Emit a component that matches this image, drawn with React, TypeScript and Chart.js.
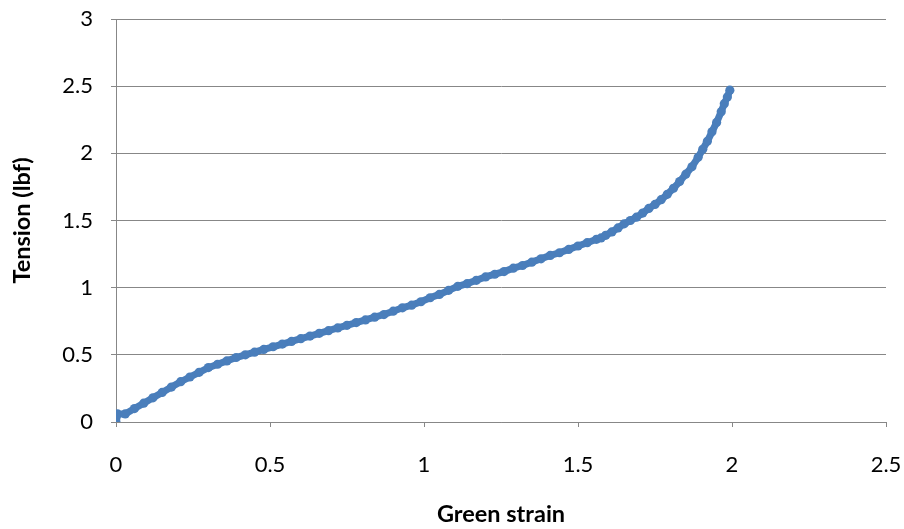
import React, { useEffect, useRef } from "react";
import { Chart, registerables } from "chart.js";

Chart.register(...registerables);

const strain: number[] = [
  0.0, 0.0, 0.005, 0.03, 0.06, 0.09, 0.12, 0.15, 0.18, 0.21, 0.24, 0.27, 0.3, 0.33, 0.36, 0.39,
  0.42, 0.45, 0.48, 0.51, 0.54, 0.57, 0.6, 0.63, 0.66, 0.69, 0.72, 0.75, 0.78, 0.81, 0.84, 0.87,
  0.9, 0.93, 0.96, 0.99, 1.02, 1.05, 1.08, 1.11, 1.14, 1.17, 1.2, 1.23, 1.26, 1.29, 1.32, 1.35,
  1.38, 1.41, 1.44, 1.47, 1.5, 1.53, 1.56, 1.575, 1.59, 1.61, 1.63, 1.65, 1.67, 1.69, 1.71, 1.73,
  1.75, 1.77, 1.79, 1.81, 1.83, 1.85, 1.87, 1.89, 1.905, 1.92, 1.935, 1.95, 1.965, 1.975, 1.985,
  1.993,
];

const tension: number[] = [
  0.0, 0.03, 0.06, 0.06, 0.1, 0.14, 0.18, 0.22, 0.26, 0.3, 0.335, 0.37, 0.405, 0.43, 0.455, 0.48,
  0.5, 0.52, 0.54, 0.56, 0.58, 0.6, 0.62, 0.64, 0.66, 0.68, 0.7, 0.72, 0.74, 0.76, 0.78, 0.8,
  0.825, 0.85, 0.87, 0.895, 0.925, 0.95, 0.98, 1.01, 1.03, 1.055, 1.08, 1.1, 1.12, 1.145, 1.165,
  1.19, 1.215, 1.24, 1.26, 1.285, 1.31, 1.335, 1.36, 1.37, 1.39, 1.415, 1.445, 1.475, 1.5, 1.525,
  1.555, 1.59, 1.62, 1.655, 1.695, 1.74, 1.79, 1.845, 1.9, 1.97, 2.03, 2.09, 2.16, 2.23, 2.31,
  2.37, 2.42, 2.47,
];

const xTitle = "Green strain";
const yTitle = "Tension (lbf)";

const FONT = "Lato, 'Liberation Sans', sans-serif";
const GRID = "#878787";
const BLUE = "#4A7EBB";

const zeroPad = (s: any) => {
  s.paddingLeft = 0;
  s.paddingRight = 0;
  s.paddingTop = 0;
  s.paddingBottom = 0;
};

export default function App() {
  const ref = useRef<HTMLCanvasElement | null>(null);

  useEffect(() => {
    if (!ref.current) return;
    const data = strain.map((x, i) => ({ x, y: tension[i] }));
    const chart = new Chart(ref.current, {
      type: "scatter",
      data: {
        datasets: [
          {
            data,
            showLine: true,
            borderColor: BLUE,
            borderWidth: 7,
            backgroundColor: BLUE,
            pointRadius: 4.6,
            pointBorderWidth: 0,
            pointBackgroundColor: BLUE,
          },
        ],
      },
      options: {
        animation: false,
        responsive: false,
        maintainAspectRatio: false,
        layout: { padding: { top: 19, right: 18, left: 0, bottom: 0 } },
        plugins: { legend: { display: false }, tooltip: { enabled: false } },
        scales: {
          x: {
            type: "linear",
            min: 0,
            max: 2.5,
            afterFit: (s: any) => {
              s.height = 107;
              zeroPad(s);
            },
            ticks: {
              stepSize: 0.5,
              color: "#000",
              padding: 25,
              maxRotation: 0,
              font: { family: FONT, size: 22 },
              callback: (v: any) => String(Number(v)),
            },
            grid: {
              drawOnChartArea: false,
              drawTicks: true,
              tickLength: 5,
              color: GRID,
              lineWidth: 1,
            },
            border: { display: true, color: GRID, width: 1 },
            title: {
              display: true,
              text: xTitle,
              color: "#000",
              padding: { top: 0, bottom: 0 },
              font: { family: FONT, size: 23.5, weight: "bold" },
            },
          },
          y: {
            type: "linear",
            min: 0,
            max: 3,
            afterFit: (s: any) => {
              s.width = 116;
              zeroPad(s);
            },
            ticks: {
              stepSize: 0.5,
              color: "#000",
              padding: 18,
              font: { family: FONT, size: 22 },
              callback: (v: any) => String(Number(v)),
            },
            grid: {
              drawTicks: true,
              tickLength: 5,
              color: GRID,
              lineWidth: 1,
            },
            border: { display: true, color: GRID, width: 1 },
            title: {
              display: true,
              text: yTitle,
              color: "#000",
              padding: { top: 8, bottom: 0 },
              font: { family: FONT, size: 23.5, weight: "bold" },
            },
          },
        },
      },
    });
    return () => chart.destroy();
  }, []);

  return (
    <div style={{ position: "fixed", left: 0, top: 0, width: 904, height: 529, background: "#fff" }}>
      <canvas ref={ref} width={904} height={529} style={{ width: 904, height: 529 }} />
    </div>
  );
}
